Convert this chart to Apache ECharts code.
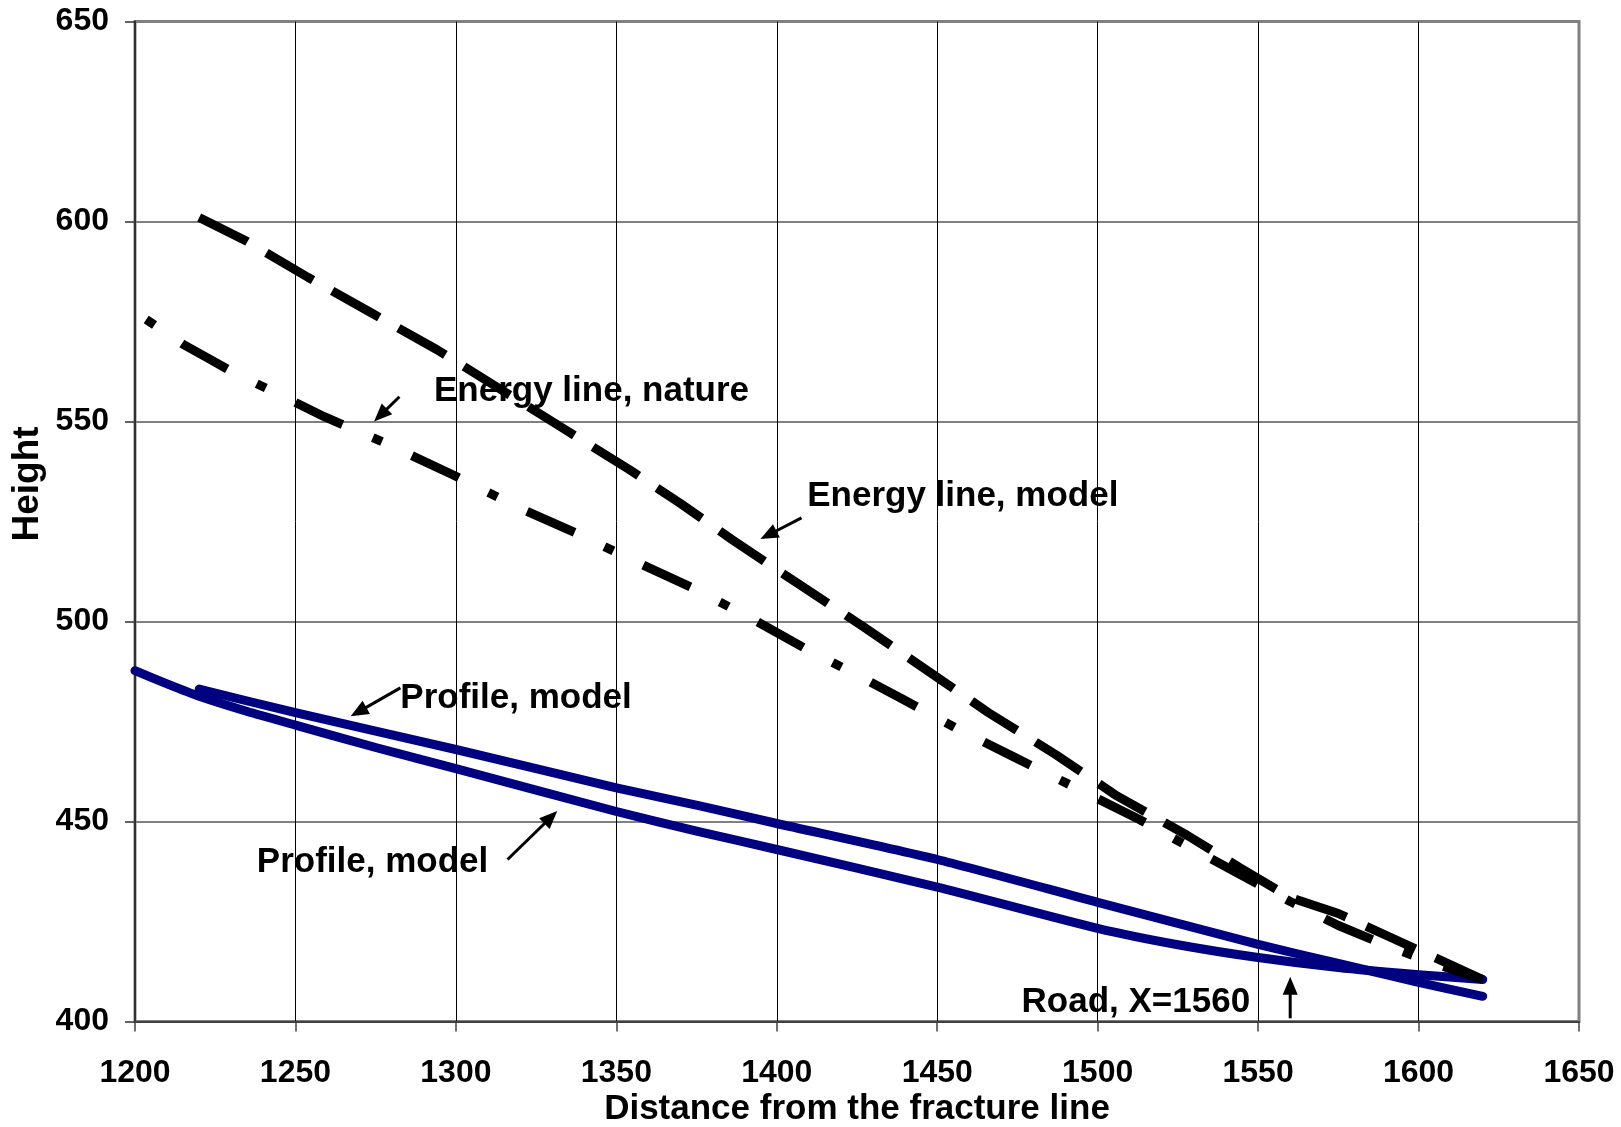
<!DOCTYPE html>
<html>
<head>
<meta charset="utf-8">
<script src="https://cdn.jsdelivr.net/npm/echarts@6/dist/echarts.min.js"></script>
<style>
    html, body { margin: 0; padding: 0; background: #fff; }
    #chart { width: 1621px; height: 1127px; }
</style>
</head>
<body>
<div id="chart"></div>
<script>
// 能量线（模型），虚线
const energyModelX = [1220, 1235, 1254, 1274, 1294, 1314, 1334, 1354, 1370, 1386, 1406, 1427, 1447, 1466, 1487, 1506, 1528, 1544, 1560, 1575, 1590, 1605, 1620]
const energyModelY = [601, 595, 586, 577, 568, 558, 548, 538, 529.5, 520.5, 509.8, 498.7, 487.7, 477.2, 466.7, 456.4, 446.5, 438.6, 431, 427, 421.5, 416, 410.5]
// 能量线（实测），点划线
const energyNatureX = [1203.5, 1215, 1223, 1231, 1242, 1259, 1278, 1299, 1320, 1338, 1356, 1374, 1392, 1409, 1427, 1439, 1456, 1474, 1495, 1513, 1530, 1545, 1560, 1575, 1590, 1605, 1620]
const energyNatureY = [575.5, 569.3, 565.7, 562.1, 557.9, 551.2, 544.6, 536.7, 528.3, 521.9, 515, 508.3, 500.8, 493.2, 485.8, 480.7, 473.3, 466.1, 457.7, 450.5, 443, 436.5, 430, 424, 419, 414.5, 410.5]
// 剖面线
const profileUpperX = [1220, 1250, 1300, 1350, 1376, 1400, 1450, 1500, 1550, 1575, 1600, 1620]
const profileUpperY = [483.1, 477.2, 468, 458.4, 453.9, 449.5, 440.5, 429.8, 419.3, 414.5, 409.8, 406.3]
const profileLowerX = [1200, 1210, 1220, 1235, 1250, 1275, 1300, 1350, 1376, 1400, 1450, 1500, 1525, 1550, 1575, 1600, 1620]
const profileLowerY = [487.7, 484.4, 481.3, 477.5, 474.1, 468.5, 463.2, 452.5, 447.4, 443, 433.6, 423.3, 419.2, 416, 413.5, 411.7, 410.5]

// 标注文字（左对齐，垂直居中）
const labelTexts = ['Energy line, nature', 'Energy line, model', 'Profile, model', 'Profile, model', 'Road, X=1560']
const labelX = [1293.8, 1410.1, 1283.3, 1238.6, 1476.9]
const labelY = [557.6, 531.3, 480.8, 439.9, 404.7]
// 箭头：尾 -> 头
const arrowTail = [[1282.4, 556.2], [1407.7, 525.9], [1282.7, 483.4], [1316.1, 440.5], [1560, 400.8]]
const arrowHead = [[1274.5, 550], [1394.9, 520.6], [1267.2, 476.3], [1331.6, 452.6], [1560, 411.2]]

const zip = (xs, ys) => xs.map((x, i) => [x, ys[i]])
const font = '"Liberation Sans", Arial, sans-serif'

const chart = echarts.init(document.getElementById('chart'))
chart.setOption({
    animation: false,
    grid: {
        left: 135,
        right: 42,
        top: 21.5,
        bottom: 105.5,
        outerBoundsMode: 'none',
        containLabel: false,
        show: true,
        borderColor: '#808080',
        borderWidth: 3
    },
    xAxis: {
        type: 'value',
        min: 1200,
        max: 1650,
        interval: 50,
        name: 'Distance from the fracture line',
        nameLocation: 'middle',
        nameGap: 70,
        nameMoveOverlap: false,
        nameTextStyle: { fontFamily: font, fontWeight: 'bold', fontSize: 35, color: '#000' },
        axisLine: { lineStyle: { color: '#404040', width: 2 } },
        axisTick: { show: true, inside: false, length: 10, lineStyle: { color: '#404040', width: 1.5 } },
        axisLabel: { margin: 36, fontFamily: font, fontWeight: 'bold', fontSize: 32, color: '#000', formatter: v => String(v) },
        splitLine: { show: true, showMaxLine: false, lineStyle: { color: '#000', width: 1 } }
    },
    yAxis: {
        type: 'value',
        min: 400,
        max: 650,
        interval: 50,
        axisLine: { show: true, lineStyle: { color: '#303030', width: 2 } },
        axisTick: { show: true, inside: false, length: 10, lineStyle: { color: '#303030', width: 1.5 } },
        axisLabel: { margin: 26, fontFamily: font, fontWeight: 'bold', fontSize: 32, color: '#000', formatter: v => String(v) },
        splitLine: { show: true, showMaxLine: false, lineStyle: { color: '#808080', width: 2 } }
    },
    series: [
        {
            name: 'Profile, model (lower)',
            type: 'line',
            data: zip(profileLowerX, profileLowerY),
            showSymbol: false,
            smooth: 0.2,
            lineStyle: { color: '#000080', width: 9, cap: 'round', join: 'round' }
        },
        {
            name: 'Profile, model (upper)',
            type: 'line',
            data: zip(profileUpperX, profileUpperY),
            showSymbol: false,
            smooth: 0.2,
            lineStyle: { color: '#000080', width: 9, cap: 'round', join: 'round' }
        },
        {
            name: 'Energy line, nature',
            type: 'line',
            data: zip(energyNatureX, energyNatureY),
            showSymbol: false,
            lineStyle: { color: '#000', width: 9, type: [52, 33, 10, 33], dashOffset: 85, cap: 'butt' }
        },
        {
            name: 'Energy line, model',
            type: 'line',
            data: zip(energyModelX, energyModelY),
            showSymbol: false,
            lineStyle: { color: '#000', width: 9, type: [54, 22], cap: 'butt' }
        }
    ]
})

// 根据坐标轴换算标注位置
const px = p => chart.convertToPixel({ gridIndex: 0 }, p)
const graphics = []
labelTexts.forEach((t, i) => {
    const p = px([labelX[i], labelY[i]])
    graphics.push({
        type: 'text',
        x: p[0] - 2,
        y: p[1],
        z: 100,
        style: { text: t, fontFamily: font, fontWeight: 'bold', fontSize: 35, fill: '#000', align: 'left', verticalAlign: 'middle' }
    })
})
arrowTail.forEach((tail, i) => {
    const a = px(tail)
    const b = px(arrowHead[i])
    const dx = b[0] - a[0], dy = b[1] - a[1]
    const len = Math.sqrt(dx * dx + dy * dy)
    const ux = dx / len, uy = dy / len
    const hl = 18, hw = 7.5
    const bx = b[0] - ux * hl, by = b[1] - uy * hl
    graphics.push({
        type: 'line',
        z: 100,
        shape: { x1: a[0], y1: a[1], x2: bx + ux * 2, y2: by + uy * 2 },
        style: { stroke: '#000', lineWidth: 3 }
    })
    graphics.push({
        type: 'polygon',
        z: 100,
        shape: { points: [[b[0], b[1]], [bx - uy * hw, by + ux * hw], [bx + uy * hw, by - ux * hw]] },
        style: { fill: '#000' }
    })
})
graphics.push({
    type: 'text',
    x: 27.5,
    y: 484,
    rotation: Math.PI / 2,
    style: { text: 'Height', fontFamily: font, fontWeight: 'bold', fontSize: 37, fill: '#000', align: 'center', verticalAlign: 'middle' }
})
chart.setOption({ graphic: graphics })
</script>
</body>
</html>
